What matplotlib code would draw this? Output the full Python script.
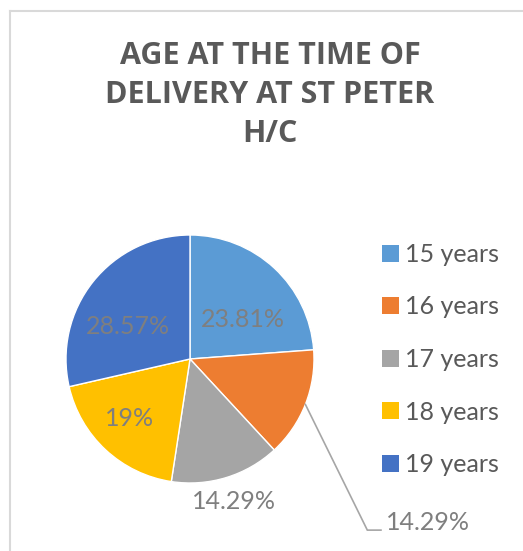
import numpy as np
import matplotlib
matplotlib.use("Agg")
import matplotlib.pyplot as plt
from matplotlib.patches import Rectangle
from matplotlib.lines import Line2D

# ---- data ----
categories = ["15 years", "16 years", "17 years", "18 years", "19 years"]
values = [23.81, 14.29, 14.29, 19, 28.57]
value_labels = ["23.81%", "14.29%", "14.29%", "19%", "28.57%"]
title = "AGE AT THE TIME OF\nDELIVERY AT ST PETER\nH/C"

colors = ["#5B9BD5", "#ED7D31", "#A5A5A5", "#FFC000", "#4472C4"]

W, H = 523, 551
fig = plt.figure(figsize=(W / 100, H / 100), dpi=100)
fig.patch.set_facecolor("white")

# frame lines (left and top of chart area)
fig.add_artist(Line2D([10 / W, 10 / W], [0, 1 - 11 / H], color="#D9D9D9", lw=1.5))
fig.add_artist(Line2D([10 / W, 1], [1 - 11 / H, 1 - 11 / H], color="#D9D9D9", lw=1.5))

# title
fig.text(270 / W, 1 - 95 / H, title, ha="center", va="center",
         fontsize=22, fontweight="bold", family=["Open Sans", "DejaVu Sans"],
         color="#595959", linespacing=1.38)

# pie axes: centre (190,359) px, radius 124 px
cx, cy, r = 190, 359, 124
ax = fig.add_axes([(cx - r) / W, (H - cy - r) / H, 2 * r / W, 2 * r / H])
wedges, _ = ax.pie(values, colors=colors, startangle=90, counterclock=False,
                   wedgeprops=dict(edgecolor="white", linewidth=1.0))
ax.set_xlim(-1, 1)
ax.set_ylim(-1, 1)
ax.set_aspect("auto")
ax.axis("off")

label_font = ["Lato", "DejaVu Sans"]
label_color = "#7F7F7F"
# label placement: (angle shift deg, radius) relative to wedge mid-angle
placements = [(-10, 0.53), (None, None), (0, 1.2), (-2.5, 0.68), (11, 0.56)]
for w, txt, (dshift, rad) in zip(wedges, value_labels, placements):
    mid = np.deg2rad((w.theta1 + w.theta2) / 2)
    if dshift is None:
        # leader-line label
        x0, y0 = np.cos(mid), np.sin(mid)
        xe, ye = 1.43, -1.38
        ax.plot([x0, xe, 1.54], [y0, ye, ye], color="#A6A6A6", lw=1.2,
                clip_on=False, solid_joinstyle="miter")
        ax.text(1.58, ye + 0.065, txt, ha="left", va="center", fontsize=18,
                family=label_font, color=label_color, clip_on=False)
        continue
    ang = mid + np.deg2rad(dshift)
    ax.text(rad * np.cos(ang), rad * np.sin(ang), txt, ha="center", va="center",
            fontsize=18, family=label_font, color=label_color, clip_on=False)

# legend
handles = [Rectangle((0, 0), 1, 1, facecolor=c, edgecolor="none") for c in colors]
leg = fig.legend(handles, categories, loc="upper left",
                 bbox_to_anchor=(382 / W, 1 - 243 / H), frameon=False,
                 prop=dict(family=label_font, size=18), labelcolor="#595959",
                 handlelength=0.68, handleheight=0.68, handletextpad=0.25,
                 labelspacing=1.18, borderpad=0, borderaxespad=0)

fig.savefig("out.png", dpi=100, facecolor="white")
